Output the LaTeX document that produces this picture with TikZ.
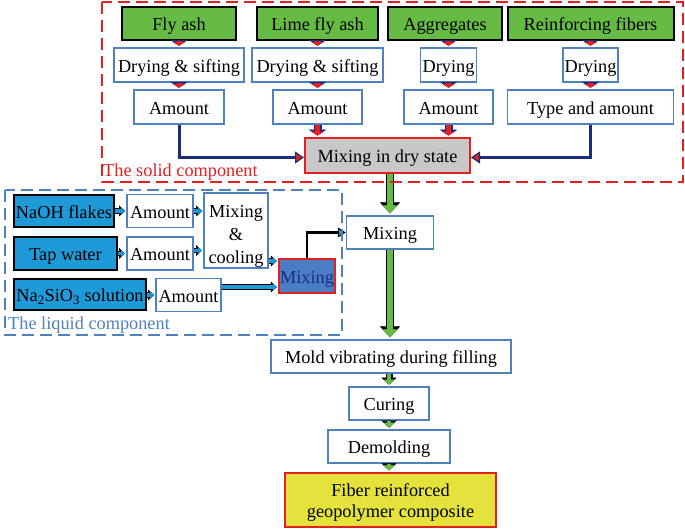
\documentclass[tikz,border=0pt]{standalone}
\usepackage{fontspec}
\setmainfont{Liberation Serif}
\usetikzlibrary{arrows.meta}
\definecolor{boxblue}{RGB}{79,129,189}
\definecolor{leafgreen}{RGB}{102,187,68}
\definecolor{saltblue}{RGB}{30,154,216}
\definecolor{mixblue}{RGB}{74,125,196}
\definecolor{darknavy}{RGB}{25,45,120}
\definecolor{linered}{RGB}{226,32,32}
\definecolor{drygray}{RGB}{200,200,200}
\definecolor{resultyellow}{RGB}{228,226,60}
\begin{document}
\begin{tikzpicture}[x=1pt,y=-1pt,
every node/.style={font=\fontsize{18.3}{22}\selectfont, inner sep=0pt, align=center, text height=16pt, text depth=2pt},
process/.style={draw=boxblue, line width=1.5pt, fill=white, minimum height=34pt},
rawsolid/.style={draw=black, line width=2pt, fill=leafgreen, minimum height=33pt},
rawliquid/.style={draw=black, line width=2pt, fill=saltblue, minimum height=32pt},
mixdry/.style={draw=linered, line width=2pt, fill=drygray, minimum height=35pt},
mixliquid/.style={draw=linered, line width=2pt, fill=mixblue, text=darknavy, minimum height=34pt},
product/.style={draw=linered, line width=2pt, fill=resultyellow, minimum height=54pt},
redarr/.style={preaction={draw=darknavy, line width=8pt, -{Triangle[length=6pt,width=18pt,line width=0.5pt]}},
  draw=linered, line width=5pt, -{Triangle[length=4pt,width=13pt,line width=0.5pt]}, shorten >=1.5pt},
navyarr/.style={draw=darknavy, line width=3pt, -{Triangle[length=9pt,width=12pt,fill=linered,line width=1.2pt]}},
greenarr/.style={preaction={draw=black, line width=8.5pt, -{Triangle[length=11pt,width=20pt,line width=0.5pt]}},
  draw=leafgreen, line width=5.5pt, -{Triangle[length=8pt,width=15pt,line width=0.5pt]}, shorten >=1.8pt},
littlegreen/.style={preaction={draw=black, line width=7pt, -{Triangle[length=7pt,width=15pt,line width=0.5pt]}},
  draw=leafgreen, line width=4.5pt, -{Triangle[length=5pt,width=11pt,line width=0.5pt]}, shorten >=1.6pt},
cyanarr/.style={preaction={draw=black, line width=5.5pt, -{Triangle[length=6pt,width=11pt,line width=0.5pt]}},
  draw=saltblue, line width=3.2pt, -{Triangle[length=4pt,width=7pt,line width=0.5pt]}, shorten >=1.2pt},
blackarr/.style={draw=black, line width=2.5pt, -{Triangle[length=8pt,width=10pt,fill=saltblue,line width=1pt]}},
elbow/.style={to path={|- (\tikztotarget)}}]
\useasboundingbox (0,0) rectangle (685,531);

\node[rawsolid, minimum width=114pt] (flyash) at (179,23) {Fly ash};
\node[rawsolid, minimum width=121pt] (limeash) at (317.5,23) {Lime fly ash};
\node[rawsolid, minimum width=114pt] (aggr) at (445,23) {Aggregates};
\node[rawsolid, minimum width=166pt] (fibers) at (590.5,23) {Reinforcing fibers};

\node[process, minimum width=130pt] (dry1) at (179,65) {Drying \& sifting};
\node[process, minimum width=131pt] (dry2) at (317.5,65) {Drying \& sifting};
\node[process, minimum width=56pt] (dry3) at (448.5,65) {Drying};
\node[process, minimum width=55pt] (dry4) at (590.5,65) {Drying};

\node[process, minimum width=90pt] (amt1) at (179,107) {Amount};
\node[process, minimum width=89pt] (amt2) at (317.5,107) {Amount};
\node[process, minimum width=89pt] (amt3) at (448.5,107) {Amount};
\node[process, minimum width=166pt] (amt4) at (590.5,107) {Type and amount};

\node[mixdry, minimum width=165pt] (drymix) at (387.5,155.5) {Mixing in dry state};

\node[rawliquid, minimum width=100pt] (naoh) at (64,211) {NaOH flakes};
\node[rawliquid, minimum width=103pt, minimum height=33pt] (water) at (65.5,253.5) {Tap water};
\node[rawliquid, minimum width=132pt, minimum height=31pt] (silicate) at (80,294.5) {Na\textsubscript{2}SiO\textsubscript{3} solution};
\node[process, minimum width=66pt, minimum height=33pt] (amta) at (160,211) {Amount};
\node[process, minimum width=66pt, minimum height=33pt] (amtb) at (160,253.5) {Amount};
\node[process, minimum width=65pt, minimum height=33pt] (amtc) at (188.5,295) {Amount};
\node[process, minimum width=64pt, minimum height=75pt, text height=66pt, text depth=1pt, font=\fontsize{18.3}{23}\selectfont] (cool) at (236,230.5) {Mixing\\\&\\cooling};
\node[mixliquid, minimum width=56pt] (wetmix) at (307,276) {Mixing};
\coordinate (wetin) at ([yshift=15pt]wetmix.west);
\coordinate (wetlow) at ([yshift=-11pt]wetmix.west);

\node[process, minimum width=87pt, minimum height=33pt] (mix) at (390,232.5) {Mixing};
\node[process, minimum width=240pt, minimum height=33pt] (mold) at (391,356.5) {Mold vibrating during filling};
\node[process, minimum width=80pt, minimum height=33pt] (curing) at (389,403.5) {Curing};
\node[process, minimum width=122pt, minimum height=33pt] (demold) at (389,446.5) {Demolding};
\node[product, minimum width=211pt, text height=36pt, text depth=2pt, font=\fontsize{18.3}{21}\selectfont] (result) at (390.5,500) {Fiber reinforced\\geopolymer composite};

\path (flyash) edge[redarr] (dry1)
(limeash) edge[redarr] (dry2)
(aggr.south -| dry3.north) edge[redarr] (dry3.north)
(fibers) edge[redarr] (dry4)
(dry1) edge[redarr] (amt1)
(dry2) edge[redarr] (amt2)
(dry3) edge[redarr] (amt3)
(dry4) edge[redarr] (amt4)
(amt2.south) edge[redarr] (amt2.south |- drymix.north)
(amt3.south) edge[redarr] (amt3.south |- drymix.north)
(amt1.south) edge[navyarr, elbow] ([yshift=-2pt]drymix.west)
(amt4.south) edge[navyarr, elbow] ([yshift=-2pt]drymix.east);

\path (naoh) edge[cyanarr] (amta)
(water) edge[cyanarr] (amtb)
(silicate.east |- amtc.west) edge[cyanarr] (amtc.west)
(amta.east) edge[cyanarr] (amta.east -| cool.west)
([yshift=3pt]amtb.east) edge[cyanarr] ([yshift=3pt]amtb.east -| cool.west)
(cool.east |- wetin) edge[cyanarr] (wetin)
(amtc.east |- wetlow) edge[cyanarr] (wetlow)
(wetmix.north) edge[blackarr, elbow] (mix.west);

\path (mix.north |- drymix.south) edge[greenarr] (mix.north)
(mix) edge[greenarr] (mix.south |- mold.north)
(curing.north |- mold.south) edge[littlegreen] (curing.north)
(curing) edge[littlegreen] (demold)
(demold) edge[littlegreen] (demold.south |- result.north);

\draw[linered, line width=2pt, dash pattern=on 12pt off 6pt] (102,2) rectangle (683,182);
\node[anchor=west, text=linered] (solidtag) at (103,169) {The solid component};
\draw[boxblue, line width=2pt, dash pattern=on 12pt off 6pt] (5,190) rectangle (342,335);
\node[anchor=west, text=boxblue] (liquidtag) at (8,322) {The liquid component};
\end{tikzpicture}
\end{document}
